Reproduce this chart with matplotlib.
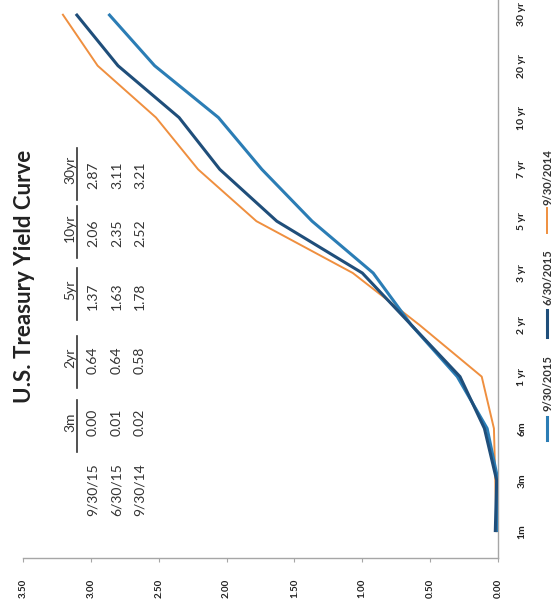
import matplotlib.pyplot as plt
from matplotlib.lines import Line2D
import numpy as np

# maturities along the curve (chart is printed turned on its side)
maturities = ['1m', '3m', '6m', '1 yr', '2 yr', '3 yr', '5 yr', '7 yr', '10 yr', '20 yr', '30 yr']

# yields
yields_sep15 = [0.00, 0.00, 0.08, 0.30, 0.64, 0.92, 1.37, 1.74, 2.06, 2.53, 2.87]
yields_jun15 = [0.02, 0.01, 0.10, 0.28, 0.64, 1.00, 1.63, 2.05, 2.35, 2.80, 3.11]
yields_sep14 = [0.01, 0.02, 0.03, 0.12, 0.58, 1.07, 1.78, 2.21, 2.52, 2.95, 3.21]

series_names = ['9/30/2015', '6/30/2015', '9/30/2014']
series_colors = ['#2b7db5', '#1f4e7a', '#ef8f3f']
series_widths = [2.2, 2.2, 1.4]

# small summary table printed on the chart
table_cols = ['3m', '2yr', '5yr', '10yr', '30yr']
table_rows = ['9/30/15', '6/30/15', '9/30/14']
table_sep15 = ['0.00', '0.64', '1.37', '2.06', '2.87']
table_jun15 = ['0.01', '0.64', '1.63', '2.35', '3.11']
table_sep14 = ['0.02', '0.58', '1.78', '2.52', '3.21']

yield_ticks = np.arange(0, 3.51, 0.5)

W, H = 555, 600
plt.rcParams['font.family'] = ['Lato', 'DejaVu Sans']
fig = plt.figure(figsize=(W / 100, H / 100), dpi=100)


def fx(px):
    return px / W


def fy(py):
    return 1 - py / H


ax = fig.add_axes([fx(23), fy(558), fx(498) - fx(23), fy(-12) - fy(558)])

pos = np.arange(len(maturities))
all_yields = [yields_sep15, yields_jun15, yields_sep14]
order = [2, 0, 1]  # orange underneath, blues on top
for i in order:
    ax.plot(all_yields[i], pos, color=series_colors[i], lw=series_widths[i],
            solid_capstyle='butt', zorder=3 + order.index(i))

ax.set_xlim(3.5, 0)
ax.set_ylim(-0.5, len(maturities) - 0.5)

for s in ['top', 'left']:
    ax.spines[s].set_visible(False)
for s in ['bottom', 'right']:
    ax.spines[s].set_color('#a6a6a6')
    ax.spines[s].set_linewidth(1)

ax.set_xticks(yield_ticks)
ax.set_xticklabels([f'{v:.2f}' for v in yield_ticks], rotation=90,
                   fontsize=7, fontweight='bold', color='#222222')
ax.tick_params(axis='x', direction='out', length=3, color='#a6a6a6', pad=12)

ax.yaxis.tick_right()
ax.set_yticks(pos)
ax.set_yticklabels(maturities, fontsize=7.5, fontweight='bold', color='#222222')
ax.tick_params(axis='y', length=0, pad=14)
for lab in ax.get_yticklabels():
    lab.set_rotation(90)
    lab.set_va('center')
    lab.set_ha('left')

# title
fig.text(fx(25), fy(276), 'U.S. Treasury Yield Curve', rotation=90,
         ha='center', va='center', fontsize=16, fontweight='bold', color='#222222')

# table
col_y = [422, 358, 290, 228, 170]
val_y = [422, 360, 296, 233, 175]
row_x = [93, 117, 140]
for c, txt in enumerate(table_cols):
    fig.text(fx(70), fy(col_y[c]), txt, rotation=90, ha='center', va='center',
             fontsize=10, color='#333333')
    fig.add_artist(Line2D([fx(77), fx(77)], [fy(col_y[c] + 30), fy(col_y[c] - 22)],
                          color='#333333', lw=1.2))
table_vals = [table_sep15, table_jun15, table_sep14]
for r, name in enumerate(table_rows):
    fig.text(fx(row_x[r]), fy(490), name, rotation=90, ha='center', va='center',
             fontsize=10, color='#333333')
    for c, v in enumerate(table_vals[r]):
        fig.text(fx(row_x[r]), fy(val_y[c]), v, rotation=90, ha='center', va='center',
                 fontsize=10, color='#333333')

# legend (drawn by hand so it reads sideways like the rest)
leg_line = [(417, 440), (310, 337), (208, 233)]
leg_text = [383, 277, 177]
for i, name in enumerate(series_names):
    a, b = leg_line[i]
    fig.add_artist(Line2D([fx(547), fx(547)], [fy(b), fy(a)],
                          color=series_colors[i], lw=series_widths[i]))
    fig.text(fx(548), fy(leg_text[i]), name, rotation=90, ha='center', va='center',
             fontsize=8, fontweight='bold', color='#333333')

fig.savefig('out.png', dpi=100)
